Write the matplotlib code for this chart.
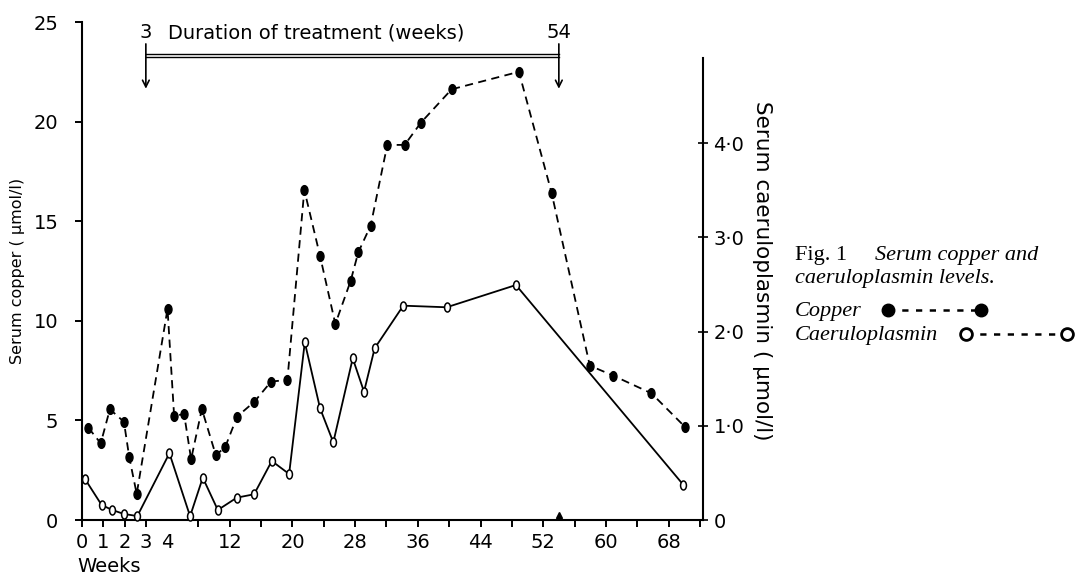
import numpy as np
import matplotlib
matplotlib.use('Agg')
import matplotlib.pyplot as plt
from matplotlib.markers import MarkerStyle
from matplotlib.transforms import Affine2D
from matplotlib.lines import Line2D

# ---- data ----
copper_weeks = [0.30, 0.88, 1.31, 1.97, 2.22, 2.57, 4.05, 4.89, 6.17, 7.06, 8.43,
                10.21, 11.40, 12.93, 15.14, 17.27, 19.35, 21.51, 23.52, 25.47, 27.43,
                28.40, 29.98, 32.10, 34.32, 36.40, 40.31, 48.90, 53.07, 57.95, 60.93,
                65.82, 70.11]
copper_values = [4.63, 3.85, 5.56, 4.93, 3.15, 1.31, 10.6, 5.24, 5.31, 3.05, 5.57,
                 3.26, 3.65, 5.19, 5.94, 6.95, 7.03, 16.57, 13.25, 9.84, 12.01,
                 13.44, 14.78, 18.83, 18.83, 19.95, 21.62, 22.5, 16.43, 7.75, 7.25,
                 6.36, 4.67]
caer_weeks = [0.14, 0.92, 1.42, 1.97, 2.60, 4.29, 6.93, 8.55, 10.47, 12.89, 15.10,
              17.36, 19.57, 21.57, 23.52, 25.21, 27.69, 29.13, 30.49, 34.14, 39.68,
              48.52, 69.91]
caer_values = [0.435, 0.16, 0.106, 0.064, 0.042, 0.708, 0.04, 0.449, 0.106, 0.237,
               0.273, 0.626, 0.488, 1.885, 1.185, 0.824, 1.715, 1.361, 1.822, 2.274,
               2.257, 2.493, 0.371]

major_ticks = [0, 1, 2, 3, 4, 12, 20, 28, 36, 44, 52, 60, 68]
major_labels = ['0', '1', '2', '3', '4', '12', '20', '28', '36', '44', '52', '60', '68']
minor_ticks = [8, 16, 24, 32, 40, 48, 56, 64, 72]
left_ticks = [0, 5, 10, 15, 20, 25]
right_ticks = [0, 1, 2, 3, 4]
right_labels = ['0', '1·0', '2·0', '3·0', '4·0']
treat_start, treat_end = 3, 54

# ---- piecewise x scale (weeks 0-4 stretched) ----
K = 21.3 / 7.84
def fwd(w):
    w = np.asarray(w, dtype=float)
    return np.where(w < 4, w * K, 4 * K + (w - 4))
def inv(u):
    u = np.asarray(u, dtype=float)
    return np.where(u < 4 * K, u / K, u - 4 * K + 4)

plt.rcParams['font.family'] = 'DejaVu Sans'
W, H = 1077, 575
fig = plt.figure(figsize=(W / 100, H / 100), dpi=100)
ax = fig.add_axes([82 / W, (H - 520) / H, (703 - 82) / W, (520 - 22) / H])
ax2 = ax.twinx()

ax.set_xscale('function', functions=(fwd, inv))
ax.set_xlim(0, 72.4)
ax.set_ylim(0, 25)
ax2.set_ylim(0, 25 * 19.92 / 94.25)

fs = 14
ax.set_xticks(major_ticks)
ax.set_xticklabels(major_labels, fontsize=fs)
ax.set_xticks(minor_ticks, minor=True)
ax.tick_params(axis='x', which='both', direction='out', length=5, width=1.4, pad=4)
ax.xaxis.get_major_ticks()[4].tick1line.set_visible(False)
ax.set_yticks(left_ticks)
ax.set_yticklabels([str(t) for t in left_ticks], fontsize=fs)
ax.tick_params(axis='y', direction='out', length=5, width=1.4, pad=12)
ax2.set_yticks(right_ticks)
ax2.set_yticklabels(right_labels, fontsize=fs)
ax2.tick_params(axis='y', direction='inout', length=7, width=1.2, pad=4)

for a in (ax, ax2):
    a.spines['top'].set_visible(False)
    for s in a.spines.values():
        s.set_linewidth(1.5)
ax.spines['right'].set_visible(False)
ax2.spines['left'].set_visible(False)
ax2.spines['bottom'].set_visible(False)
ax2.spines['right'].set_bounds(0, 4.9)

ax.set_ylabel('Serum copper ( µmol/l)', fontsize=11.5, labelpad=6)
ax2.set_ylabel('Serum caeruloplasmin ( µmol/l)', fontsize=15.5, rotation=-90,
               labelpad=20)
fig.text(77 / W, 1 - 566 / H, 'Weeks', fontsize=fs, ha='left', va='center')

cu_marker = MarkerStyle('o', transform=Affine2D().scale(0.72, 1.0))
ce_marker = MarkerStyle('o', transform=Affine2D().scale(0.65, 1.0))

ax.plot(copper_weeks, copper_values, color='black', lw=1.3, ls=(0, (4.5, 3)),
        marker=cu_marker, ms=7, mfc='black', mec='black', clip_on=False, zorder=3)
ax2.plot(caer_weeks, caer_values, color='black', lw=1.3, ls='-',
         marker=ce_marker, ms=6.5, mfc='white', mec='black', mew=1.1,
         clip_on=False, zorder=3)

# small triangle on x axis at end of treatment
ax.plot([treat_end], [0.25], marker='^', ms=4, color='black', clip_on=False, zorder=4)

# treatment bar
for yy in (23.39, 23.22):
    ax.plot([treat_start, treat_end], [yy, yy], color='black', lw=1.0, clip_on=False)
for xx in (treat_start, treat_end):
    ax.annotate('', xy=(xx, 21.65), xytext=(xx, 23.9),
                arrowprops=dict(arrowstyle='->', lw=1.2, color='black',
                                mutation_scale=12, shrinkA=0, shrinkB=0),
                annotation_clip=False)
ax.text(treat_start, 24.45, '3', fontsize=fs, ha='center', va='center')
ax.text(4.13, 24.45, 'Duration of treatment (weeks)', fontsize=fs, ha='left', va='center')
ax.text(treat_end, 24.45, '54', fontsize=fs, ha='center', va='center')

# caption
serif = 'Liberation Serif'
cfs = 16
fig.text(795 / W, 1 - 260 / H, 'Fig. 1', family=serif, fontsize=cfs, va='baseline')
fig.text(875 / W, 1 - 260 / H, 'Serum copper and', family=serif, style='italic',
         fontsize=cfs, va='baseline')
fig.text(795 / W, 1 - 283 / H, 'caeruloplasmin levels.', family=serif, style='italic',
         fontsize=cfs, va='baseline')
fig.text(795 / W, 1 - 316 / H, 'Copper', family=serif, style='italic',
         fontsize=cfs, va='baseline')
fig.text(795 / W, 1 - 340 / H, 'Caeruloplasmin', family=serif, style='italic',
         fontsize=cfs, va='baseline')
y1, y2 = 1 - 310 / H, 1 - 334 / H
fig.add_artist(Line2D([888 / W, 981 / W], [y1, y1], transform=fig.transFigure,
                      color='black', lw=1.8, ls=(0, (2.5, 3.0)), marker='o', ms=9,
                      mfc='black', mec='black', markevery=[0, 1]))
fig.add_artist(Line2D([966 / W, 1067 / W], [y2, y2], transform=fig.transFigure,
                      color='black', lw=1.8, ls=(0, (2.5, 3.0)), marker='o', ms=8.5,
                      mfc='white', mec='black', mew=2, markevery=[0, 1]))

fig.savefig('out.png', dpi=100)
